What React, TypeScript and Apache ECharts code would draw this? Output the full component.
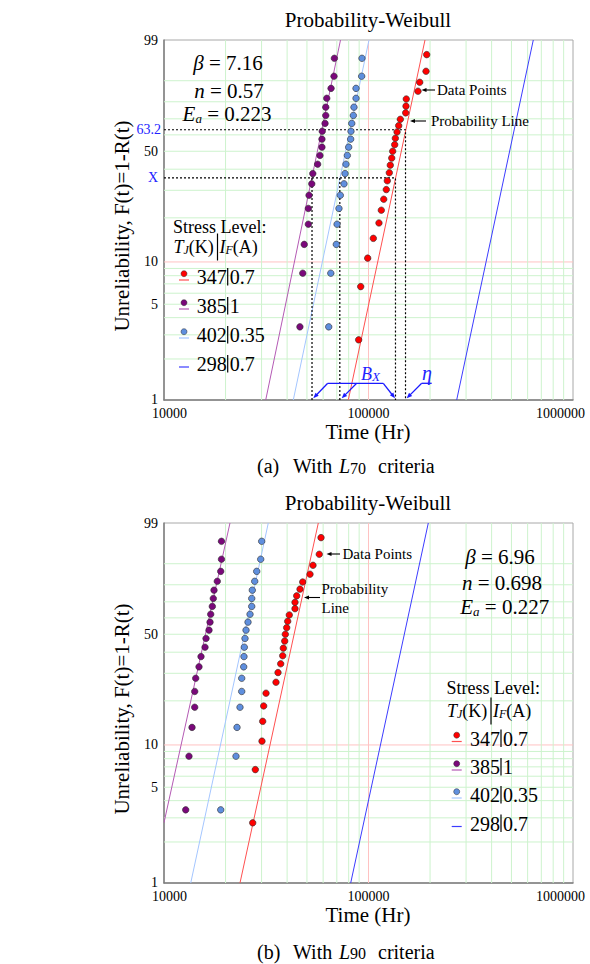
import React, { useEffect, useRef } from "react";
import * as echarts from "echarts";

const FONT = "'Liberation Serif', 'Times New Roman', serif";

// plotting positions (median ranks, % failed)
const ranks20 = [3.43, 8.33, 13.24, 18.14, 23.04, 27.94, 32.84, 37.75, 42.65, 47.55, 52.45, 57.35, 62.25, 67.16, 72.06, 76.96, 81.86, 86.76, 91.67, 96.57];
const ranks25 = [2.76, 6.69, 10.63, 14.57, 18.5, 22.44, 26.38, 30.31, 34.25, 38.19, 42.13, 46.06, 50.0, 53.94, 57.87, 61.81, 65.75, 69.69, 73.62, 77.56, 81.5, 85.43, 89.37, 93.31, 97.24];

// (a) L70 criteria: failure times (Hr)
const aRed347 = [89500, 91600, 99100, 105600, 112500, 115500, 118700, 122200, 123600, 126400, 127800, 129900, 131300, 134300, 135300, 137900, 140500, 143100, 152000, 152500, 153000, 174600, 178000, 191100, 192600];
const aPurple385 = [46200, 47700, 48500, 50800, 50800, 51200, 52800, 53400, 56400, 57900, 59200, 59200, 59400, 61300, 61800, 61800, 62500, 65600, 67800, 68100];
const aBlue402 = [63900, 65400, 69600, 70200, 71700, 72800, 75900, 76800, 77600, 78800, 80000, 81800, 82100, 82800, 84300, 84900, 86900, 86900, 92600, 92900];
// probability lines [time, % failed]
const aLine347 = [[79660, 1], [188900, 99]];
const aLine385 = [[31430, 1], [72970, 99]];
const aLine402 = [[42880, 1], [100560, 99]];
const aLine298 = [[269900, 1], [639500, 99]];
// dotted reference lines
const aRefEta = [[10000, 63.2], [151700, 63.2], [151700, 1]];
const aRefX = [[10000, 35.6], [135500, 35.6], [135500, 1]];
const aRefX385 = [[52940, 35.6], [52940, 1]];
const aRefX402 = [[72400, 35.6], [72400, 1]];

// (b) L90 criteria
const bRed347 = [27150, 27960, 30140, 30380, 30720, 31540, 35290, 36100, 37210, 38060, 38320, 38930, 39200, 39810, 40260, 40990, 43710, 43710, 44550, 46240, 47670, 51760, 53540, 57450, 58590];
const bPurple385 = [12770, 13250, 13710, 14130, 14130, 14290, 14830, 15170, 15870, 16050, 16600, 16790, 16920, 17230, 17420, 17560, 18220, 18940, 19100, 19100];
const bBlue402 = [18940, 22490, 22750, 23530, 23990, 23990, 24530, 24610, 24700, 24890, 25180, 25750, 26340, 26850, 26850, 27030, 27770, 28400, 29710, 30040];
const bLine347 = [[23530, 1], [56830, 99]];
const bLine385 = [[10000, 2.77], [21020, 99]];
const bLine402 = [[13510, 1], [32360, 99]];
const bLine298 = [[81830, 1], [196100, 99]];

// ticks
const xTickT = [10000, 100000, 1000000];
const aTickF = [99, 63.2, 50, 35.6, 10, 5, 1];
const aTickText = ["99", "63.2", "50", "X", "10", "5", "1"];
const bTickF = [99, 50, 10, 5, 1];
const bTickText = ["99", "50", "10", "5", "1"];
const gridF = [2, 3, 4, 5, 6, 7, 8, 9, 20, 30, 40, 50, 60, 70, 80, 90];
const gridT = [20000, 30000, 40000, 50000, 60000, 70000, 80000, 90000, 200000, 300000, 400000, 500000, 600000, 700000, 800000, 900000];

// legend / parameter texts
const legendLevel = ["347", "385", "402", "298"];
const legendCurrent = ["0.7", "1", "0.35", "0.7"];
const aParams = ["7.16", "0.57", "0.223"];
const bParams = ["6.96", "0.698", "0.227"];

const C_RED = "#ff0000";
const C_PURPLE = "#7a087a";
const C_LBLUE = "#5f8fde";
const L_RED = "#ff5050";
const L_PURPLE = "#b45ab4";
const L_LBLUE = "#a4c6ff";
const L_BLUE = "#3c3cff";
const BLUE_TXT = "#2222ff";
const GREEN_GRID = "#cdf3cd";
const PINK_GRID = "#ffc2c2";

// probability-paper scales: log10 time, Weibull ln(-ln(1-F))
const weib = (p: number) => Math.log(-Math.log(1 - p / 100));
const lg = (t: number) => Math.log10(t);
const Z1 = weib(1);
const Z99 = weib(99);
const X0 = lg(xTickT[0]);
const X1 = lg(xTickT[xTickT.length - 1]);

function gridRender(params: any, api: any) {
  const cs = params.coordSys;
  const kind = api.value(2);
  const p = api.coord([api.value(0), api.value(1)]);
  const color = kind >= 2 ? PINK_GRID : GREEN_GRID;
  if (kind % 2 === 0) {
    return { type: "line", silent: true, shape: { x1: cs.x, y1: p[1], x2: cs.x + cs.width, y2: p[1] }, style: { stroke: color, lineWidth: 1 } };
  }
  return { type: "line", silent: true, shape: { x1: p[0], y1: cs.y, x2: p[0], y2: cs.y + cs.height }, style: { stroke: color, lineWidth: 1 } };
}

function tickRenderer(labels: string[]) {
  return (params: any, api: any) => {
    const idx = api.value(2);
    const p = api.coord([api.value(0), api.value(1)]);
    const t = labels[idx];
    const hl = t === "63.2" || t === "X";
    return {
      type: "text",
      silent: true,
      x: p[0] - (t === "63.2" ? 3 : 6),
      y: p[1] - (t === "1" ? 1 : 0),
      style: { text: t, fontSize: 14, lineHeight: 14, fontFamily: FONT, fill: hl ? BLUE_TXT : "#000", align: "right", verticalAlign: "middle", textAlign: "right", textVerticalAlign: "middle" },
    };
  };
}

function panelSeries(i: number, sets: any) {
  const gridData: any[] = [];
  gridF.forEach((F) => gridData.push([X0, weib(F), 0]));
  gridData.push([X0, weib(10), 2]);
  gridT.forEach((t) => gridData.push([lg(t), Z1, 1]));
  gridData.push([lg(100000), Z1, 3]);
  const conv = (pts: number[][]) => pts.map(([t, F]) => [lg(t), weib(F)]);
  const out: any[] = [
    { type: "custom", xAxisIndex: i, yAxisIndex: i, z: 1, silent: true, clip: false, renderItem: gridRender, data: gridData },
    { type: "custom", xAxisIndex: i, yAxisIndex: i, z: 1, silent: true, clip: false, renderItem: tickRenderer(sets.tickText), data: sets.tickF.map((F: number, j: number) => [X0, weib(F), j]) },
  ];
  sets.lines.forEach((l: any) => {
    out.push({ type: "line", xAxisIndex: i, yAxisIndex: i, z: 3, silent: true, symbol: "none", clip: true, lineStyle: { color: l.color, width: 1 }, data: conv(l.pts) });
  });
  (sets.refs || []).forEach((r: number[][]) => {
    out.push({ type: "line", xAxisIndex: i, yAxisIndex: i, z: 4, silent: true, symbol: "none", lineStyle: { color: "#000", width: 1.2, type: [2, 2] }, data: conv(r) });
  });
  sets.points.forEach((s: any) => {
    out.push({
      type: "scatter", xAxisIndex: i, yAxisIndex: i, z: 5, silent: true, symbol: "circle", symbolSize: 6.5,
      itemStyle: { color: s.color, borderColor: "#2a2a2a", borderWidth: 0.6, opacity: 1 },
      data: s.t.map((t: number, j: number) => [lg(t), weib(s.F[j])]),
    });
  });
  return out;
}

function arrowEls(x1: number, y1: number, x2: number, y2: number, color: string, lw = 1.2, head = 6) {
  const dx = x2 - x1, dy = y2 - y1;
  const L = Math.hypot(dx, dy);
  const ux = dx / L, uy = dy / L;
  const bx = x2 - ux * head, by = y2 - uy * head;
  const px = -uy * head * 0.4, py = ux * head * 0.4;
  return [
    { type: "line", z: 100, silent: true, shape: { x1, y1, x2: bx + ux, y2: by + uy }, style: { stroke: color, lineWidth: lw } },
    { type: "polygon", z: 100, silent: true, shape: { points: [[x2, y2], [bx + px, by + py], [bx - px, by - py]] }, style: { fill: color } },
  ];
}

function text(x: number, y: number, t: string, size: number, extra: any = {}) {
  const align = extra.align || "left";
  return {
    type: "text", z: 100, silent: true, x, y, rotation: extra.rotation || 0,
    style: {
      text: t, fontSize: size, fontFamily: FONT, fontStyle: extra.italic ? "italic" : "normal", fill: extra.color || "#000",
      align, verticalAlign: "middle", textAlign: align, textVerticalAlign: "middle", rich: extra.rich,
    },
  };
}

function mathRich(size: number, sub: number, color = "#000") {
  return {
    it: { fontSize: size, fontFamily: FONT, fontStyle: "italic", fill: color, color, lineHeight: size },
    n: { fontSize: size, fontFamily: FONT, fill: color, color, lineHeight: size },
    sub: { fontSize: sub, fontFamily: FONT, fontStyle: "italic", fill: color, color, lineHeight: Math.round(sub * 0.6), verticalAlign: "bottom" },
    subn: { fontSize: sub, fontFamily: FONT, fill: color, color, lineHeight: Math.round(sub * 0.6), verticalAlign: "bottom" },
  };
}

function paramBlock(vals: string[], pos: number[][]) {
  const r = mathRich(21, 13);
  return [
    text(pos[0][0], pos[0][1], `{it|β}{n| = ${vals[0]}}`, 21, { align: "center", rich: r }),
    text(pos[1][0], pos[1][1], `{it|n}{n| = ${vals[1]}}`, 21, { align: "center", rich: r }),
    text(pos[2][0], pos[2][1], `{it|E}{sub|a}{n| = ${vals[2]}}`, 21, { align: "center", rich: r }),
  ];
}

function legendBlock(L: any) {
  const els: any[] = [];
  els.push(text(L.x, L.yStress, "Stress Level:", 18));
  const r = mathRich(18, 12);
  els.push(text(L.x + 0.5, L.yHead, "{it|T}{sub|J}{n|(K)}", 18, { rich: r }));
  els.push({ type: "line", z: 100, silent: true, shape: { x1: L.x + 44.5, y1: L.yHead - 13.5, x2: L.x + 44.5, y2: L.yHead + 13.5 }, style: { stroke: "#000", lineWidth: 1.2 } });
  els.push(text(L.x + 46.5, L.yHead, "{it|I}{sub|F}{n|(A)}", 18, { rich: r }));
  const dots = [C_RED, C_PURPLE, C_LBLUE, null];
  const lines = [L_RED, L_PURPLE, L_LBLUE, L_BLUE];
  legendLevel.forEach((lv, k) => {
    const y = L.yEntries[k];
    if (dots[k]) {
      els.push({ type: "circle", z: 100, silent: true, shape: { cx: L.markerX, cy: y - 3.3, r: 3 }, style: { fill: dots[k], stroke: "#2a2a2a", lineWidth: 0.5 } });
    }
    els.push({ type: "line", z: 100, silent: true, shape: { x1: L.markerX - 5, y1: y + 3, x2: L.markerX + 5, y2: y + 3 }, style: { stroke: lines[k], lineWidth: 1.2 } });
    els.push(text(L.textX, y, lv, 20));
    els.push({ type: "line", z: 100, silent: true, shape: { x1: L.textX + 31, y1: y - 9, x2: L.textX + 31, y2: y + 8.5 }, style: { stroke: "#000", lineWidth: 1.2 } });
    els.push(text(L.textX + 33, y, legendCurrent[k], 20));
  });
  return els;
}

function caption(y: number, tag: string, sub: string) {
  const r = mathRich(20, 16);
  return [
    text(257, y, tag, 20),
    text(293, y, "With", 20),
    text(339, y, `{it|L}{subn|${sub}}`, 20, { rich: r }),
    text(378, y, "criteria", 20),
  ];
}

export default function App() {
  const ref = useRef<HTMLDivElement>(null);
  useEffect(() => {
    document.body.style.margin = "0";
    if (!ref.current) return;
    const chart = echarts.init(ref.current, undefined, { renderer: "svg" });

    const labelStyle = { fontSize: 14, fontFamily: FONT, color: "#000", lineHeight: 14 };
    const xAxes = [0, 1].map((i) => ({
      type: "value", gridIndex: i, min: X0, max: X1, interval: 1,
      axisLine: { show: true, onZero: false, lineStyle: { color: "#7f7f7f", width: 1.5 } },
      axisTick: { show: false }, splitLine: { show: false },
      axisLabel: {
        ...labelStyle, margin: 6, showMinLabel: true, showMaxLabel: true,
        formatter: (v: number) => {
          const r = Math.round(Math.pow(10, v));
          if (r <= xTickT[0]) return `{a|${r}}`;
          if (r >= xTickT[xTickT.length - 1]) return `{b|${r}}`;
          return `{c|${r}}`;
        },
        rich: { a: { ...labelStyle, padding: [0, 0, 0, 11] }, b: { ...labelStyle, padding: [0, 25, 0, 0] }, c: { ...labelStyle } },
      },
    }));
    const yAxes = [0, 1].map((i) => ({
      type: "value", gridIndex: i, min: Z1, max: Z99,
      axisLine: { show: true, onZero: false, lineStyle: { color: "#7f7f7f", width: 1.5 } },
      axisTick: { show: false }, axisLabel: { show: false }, splitLine: { show: false },
    }));

    const series = [
      ...panelSeries(0, {
        tickF: aTickF, tickText: aTickText,
        lines: [{ pts: aLine385, color: L_PURPLE }, { pts: aLine402, color: L_LBLUE }, { pts: aLine347, color: L_RED }, { pts: aLine298, color: L_BLUE }],
        refs: [aRefEta, aRefX, aRefX385, aRefX402],
        points: [{ t: aPurple385, F: ranks20, color: C_PURPLE }, { t: aBlue402, F: ranks20, color: C_LBLUE }, { t: aRed347, F: ranks25, color: C_RED }],
      }),
      ...panelSeries(1, {
        tickF: bTickF, tickText: bTickText,
        lines: [{ pts: bLine385, color: L_PURPLE }, { pts: bLine402, color: L_LBLUE }, { pts: bLine347, color: L_RED }, { pts: bLine298, color: L_BLUE }],
        refs: [],
        points: [{ t: bPurple385, F: ranks20, color: C_PURPLE }, { t: bBlue402, F: ranks20, color: C_LBLUE }, { t: bRed347, F: ranks25, color: C_RED }],
      }),
    ];

    const blueRich = mathRich(18, 13, BLUE_TXT);
    const graphic: any[] = [
      // titles and axis names
      text(368, 20, "Probability-Weibull", 21, { align: "center" }),
      text(368, 503, "Probability-Weibull", 21, { align: "center" }),
      text(368, 432, "Time (Hr)", 21, { align: "center" }),
      text(368, 915, "Time (Hr)", 21, { align: "center" }),
      text(122, 226, "Unreliability, F(t)=1-R(t)", 21, { align: "center", rotation: Math.PI / 2 }),
      text(122, 709, "Unreliability, F(t)=1-R(t)", 21, { align: "center", rotation: Math.PI / 2 }),
      // parameters
      ...paramBlock(aParams, [[228, 63.3], [229, 90.5], [227, 114.3]]),
      ...paramBlock(bParams, [[500, 556.7], [502, 583.3], [504.7, 607.3]]),
      // callouts (a)
      ...arrowEls(435, 90, 421.5, 90, "#000", 1.1, 5),
      text(437, 90, "Data Points", 15),
      ...arrowEls(426, 121, 410, 121, "#000", 1.1, 5),
      text(431, 121, "Probability Line", 15),
      // callouts (b)
      ...arrowEls(340, 554, 326.5, 554, "#000", 1.1, 5),
      text(342.5, 554, "Data Points", 15),
      ...arrowEls(320, 597.5, 304, 597.5, "#000", 1.1, 5),
      text(321.5, 589.3, "Probability", 15),
      text(321.5, 608.3, "Line", 15),
      // B_X and eta brackets
      { type: "polyline", z: 100, silent: true, shape: { points: [[327.7, 383.3], [383.3, 383.3]] }, style: { stroke: "#1a1aff", lineWidth: 1.3, fill: "none" } },
      ...arrowEls(327.7, 383.3, 313.3, 398.3, "#1a1aff", 1.3, 5.5),
      ...arrowEls(356.7, 383.3, 341.7, 398.3, "#1a1aff", 1.3, 5.5),
      ...arrowEls(383.3, 383.3, 395, 398.3, "#1a1aff", 1.3, 5.5),
      { type: "polyline", z: 100, silent: true, shape: { points: [[431.7, 383.3], [421.7, 383.3]] }, style: { stroke: "#1a1aff", lineWidth: 1.3, fill: "none" } },
      ...arrowEls(421.7, 383.3, 406.7, 398.3, "#1a1aff", 1.3, 5.5),
      text(361, 374, "{it|B}{sub|X}", 18, { rich: blueRich, color: BLUE_TXT }),
      text(422, 372.5, "η", 20, { italic: true, color: BLUE_TXT }),
      // legends
      ...legendBlock({ x: 173, yStress: 227, yHead: 247, yEntries: [277, 306, 335, 364], markerX: 184, textX: 196.7 }),
      ...legendBlock({ x: 446.5, yStress: 688, yHead: 711, yEntries: [738.5, 767, 795, 823.5], markerX: 456.7, textX: 470 }),
      // captions
      ...caption(466, "(a)", "70"),
      ...caption(951.5, "(b)", "90"),
    ];

    const gridBase = { left: 164, width: 409, height: 360, show: true, borderColor: "#a8a8a8", borderWidth: 1, backgroundColor: "transparent", containLabel: false, outerBoundsMode: "none" };
    chart.setOption({
      animation: false,
      backgroundColor: "#ffffff",
      grid: [
        { ...gridBase, top: 40 },
        { ...gridBase, top: 523 },
      ],
      xAxis: xAxes,
      yAxis: yAxes,
      series,
      graphic,
    });
    return () => chart.dispose();
  }, []);
  return <div ref={ref} style={{ width: 590, height: 964 }} />;
}
